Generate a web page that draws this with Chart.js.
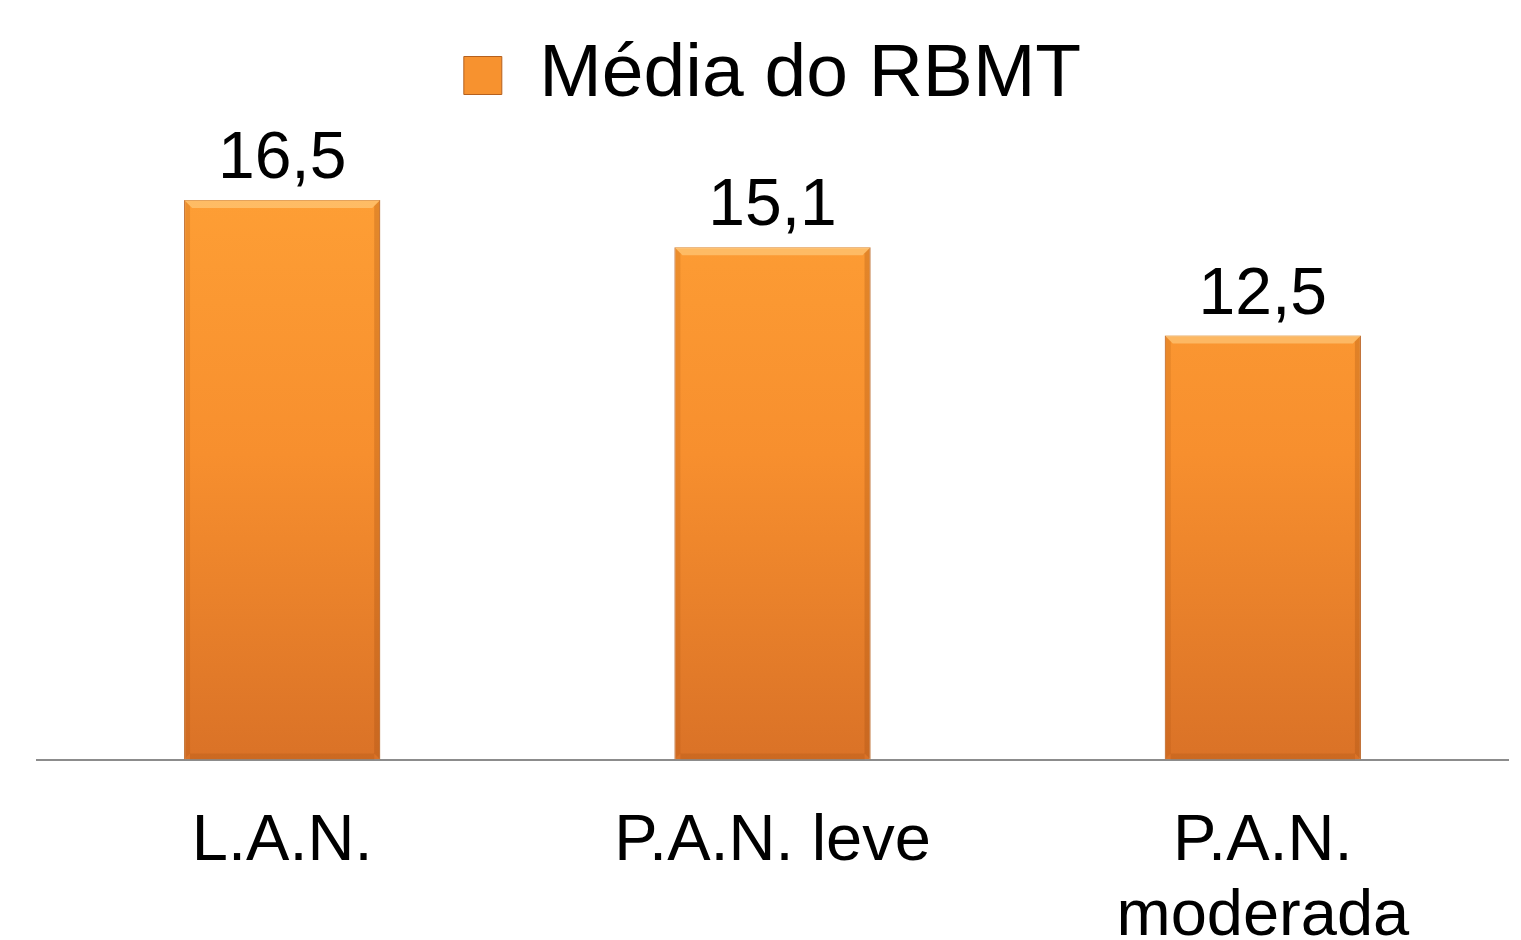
<!DOCTYPE html>
<html>
<head>
<meta charset="utf-8">
<script src="https://cdn.jsdelivr.net/npm/chart.js@4.4.1/dist/chart.umd.min.js"></script>
<style>
  html, body { margin: 0; padding: 0; background: #fff; }
  #wrap { width: 1521px; height: 940px; position: relative; }
</style>
</head>
<body>
<div id="wrap"><canvas id="rbmtChart"></canvas></div>
<script>
// Dados do grafico
const categorias = [['L.A.N.'], ['P.A.N. leve'], ['P.A.N.', 'moderada']];
const mediaRBMT = [16.5, 15.1, 12.5];
const serieNome = 'Média do RBMT';

const fonte = '"Liberation Sans", Arial, sans-serif';

// Degradê laranja das barras
const corBarra = (context) => {
    const { chart } = context;
    const area = chart.chartArea;
    if (!area) return '#F28C2E';
    const g = chart.ctx.createLinearGradient(0, area.top, 0, area.bottom);
    g.addColorStop(0, '#FFA136');
    g.addColorStop(0.5, '#F78F2E');
    g.addColorStop(1, '#DA7227');
    return g;
};

// Espaco extra entre a legenda e as barras
const legendaGap = {
    id: 'legendaGap',
    afterInit(chart) {
        const legend = chart.legend;
        if (!legend || legend._gapPatched) return;
        const fit = legend.fit;
        legend.fit = function () {
            fit.call(this);
            this.height += 26;
        };
        legend._gapPatched = true;
    }
};

// Rotulos de valor acima das barras + chanfro simples
const rotulosPlugin = {
    id: 'rotulos',
    afterDatasetsDraw(chart) {
        const ctx = chart.ctx;
        const meta = chart.getDatasetMeta(0);
        meta.data.forEach((bar, i) => {
            const left = bar.x - bar.width / 2;
            const right = bar.x + bar.width / 2;
            const top = bar.y;
            const bottom = bar.base;
            ctx.save();
            // brilho no topo
            ctx.fillStyle = 'rgba(255, 214, 140, 0.55)';
            ctx.beginPath();
            ctx.moveTo(left, top);
            ctx.lineTo(right, top);
            ctx.lineTo(right - 8, top + 8);
            ctx.lineTo(left + 8, top + 8);
            ctx.closePath();
            ctx.fill();
            // laterais mais escuras
            ctx.fillStyle = 'rgba(150, 70, 10, 0.25)';
            ctx.beginPath();
            ctx.moveTo(right, top);
            ctx.lineTo(right, bottom);
            ctx.lineTo(right - 6, bottom - 6);
            ctx.lineTo(right - 6, top + 6);
            ctx.closePath();
            ctx.fill();
            ctx.fillStyle = 'rgba(150, 70, 10, 0.15)';
            ctx.beginPath();
            ctx.moveTo(left, top);
            ctx.lineTo(left, bottom);
            ctx.lineTo(left + 6, bottom - 6);
            ctx.lineTo(left + 6, top + 6);
            ctx.closePath();
            ctx.fill();
            // base mais escura
            ctx.fillStyle = 'rgba(150, 70, 10, 0.2)';
            ctx.fillRect(left + 6, bottom - 6, bar.width - 12, 6);
            // rotulo
            ctx.fillStyle = '#000';
            ctx.font = '66px ' + fonte;
            ctx.textAlign = 'center';
            ctx.textBaseline = 'alphabetic';
            ctx.fillText(mediaRBMT[i].toFixed(1).replace('.', ','), bar.x, top - 22);
            ctx.restore();
        });
    }
};

const ctx = document.getElementById('rbmtChart').getContext('2d');
const rbmtChart = new Chart(ctx, {
    type: 'bar',
    data: {
        labels: categorias,
        datasets: [{
            label: serieNome,
            data: mediaRBMT,
            backgroundColor: corBarra,
            borderColor: '#C4651F',
            borderWidth: 1,
            categoryPercentage: 1,
            barPercentage: 0.4
        }]
    },
    options: {
        responsive: true,
        maintainAspectRatio: false,
        animation: false,
        layout: {
            padding: { left: 37, right: 13, top: 28, bottom: -51 }
        },
        plugins: {
            tooltip: { enabled: false },
            legend: {
                position: 'top',
                labels: {
                    color: '#000',
                    boxWidth: 38,
                    boxHeight: 38,
                    padding: 10,
                    font: { size: 75, family: fonte },
                    generateLabels: () => [{
                        text: serieNome,
                        fillStyle: '#F7922F',
                        strokeStyle: '#B5601E',
                        lineWidth: 1,
                        datasetIndex: 0
                    }]
                }
            }
        },
        scales: {
            x: {
                grid: { display: false },
                border: { display: true, color: '#8C8C8C', width: 2 },
                ticks: {
                    color: '#000',
                    padding: 37,
                    maxRotation: 0,
                    font: { size: 65, family: fonte, lineHeight: 1.15 }
                }
            },
            y: {
                display: false,
                min: 0,
                max: 18
            }
        }
    },
    plugins: [legendaGap, rotulosPlugin]
});
</script>
</body>
</html>
